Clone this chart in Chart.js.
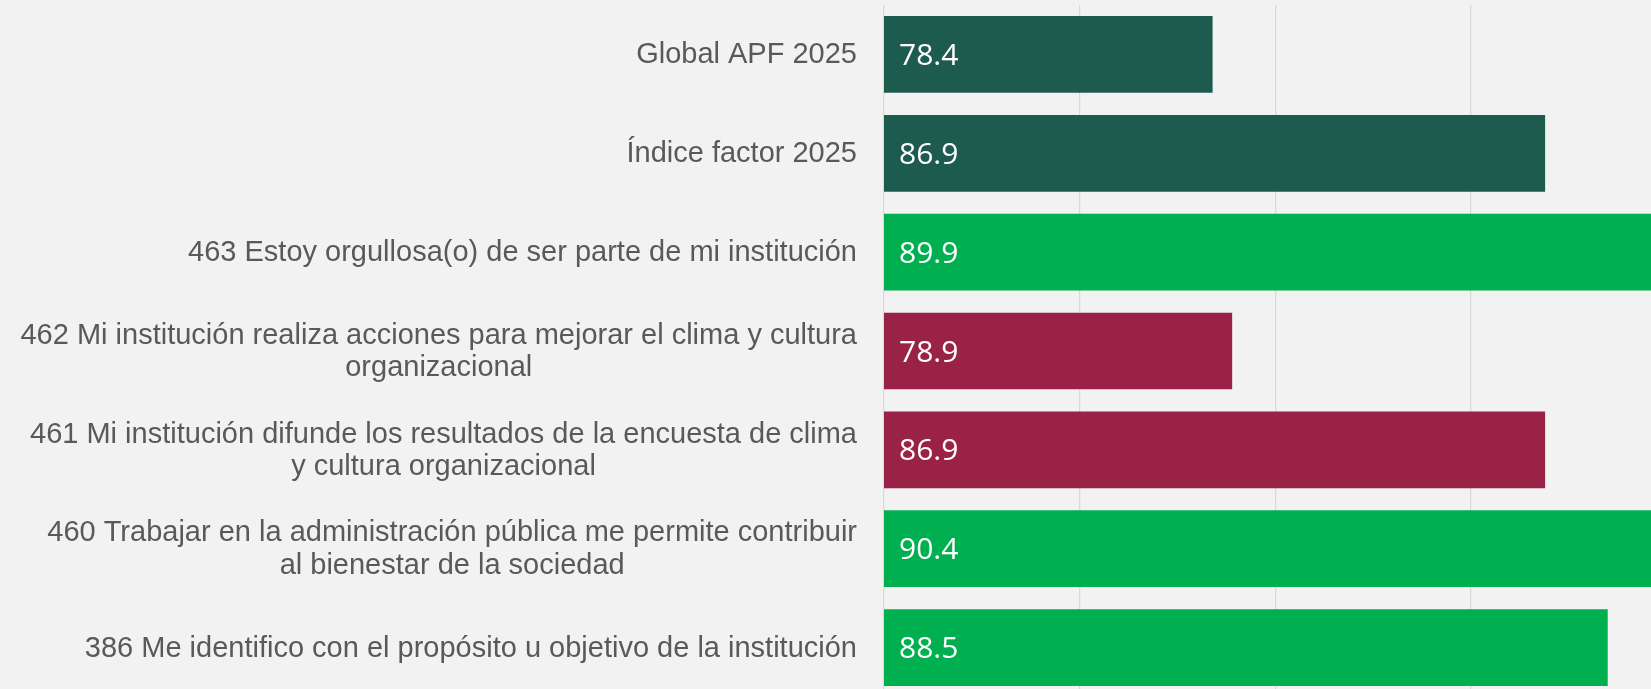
<!DOCTYPE html>
<html>
<head>
<meta charset="utf-8">
<script src="https://cdn.jsdelivr.net/npm/chart.js@4/dist/chart.umd.min.js"></script>
<style>
  html, body { margin: 0; padding: 0; overflow: hidden; background: #f2f2f2; width: 1651px; height: 689px; }
  #wrap { position: absolute; left: 0; top: 0; width: 1862px; height: 697px; }
</style>
</head>
<body>
<div id="wrap"><canvas id="bar-chart"></canvas></div>
<script>
const categories = [
  "Global APF 2025",
  "Índice factor 2025",
  "463 Estoy orgullosa(o) de ser parte de mi institución",
  ["462 Mi institución realiza acciones para mejorar el clima y cultura", "organizacional"],
  ["461 Mi institución difunde los resultados de la encuesta de clima", "y cultura organizacional"],
  ["460 Trabajar en la administración pública me permite contribuir", "al bienestar de la sociedad"],
  "386 Me identifico con el propósito u objetivo de la institución"
];
const values = [78.4, 86.9, 89.9, 78.9, 86.9, 90.4, 88.5];
const barColors = ["#1e5b4f", "#1e5b4f", "#00b050", "#9b2247", "#9b2247", "#00b050", "#00b050"];

// labels: category names (centered lines, right-aligned block) and values inside bars
const labelPlugin = {
  id: 'barLabels',
  afterDatasetsDraw(chart) {
    const ctx = chart.ctx;
    const yScale = chart.scales.y;
    const meta = chart.getDatasetMeta(0);
    const left = chart.chartArea.left;
    ctx.save();
    ctx.textBaseline = 'middle';

    ctx.font = '30px "Open Sans"';
    ctx.fillStyle = '#ffffff';
    ctx.textAlign = 'left';
    meta.data.forEach((bar, i) => {
      ctx.fillText(values[i].toFixed(1), left + 15, bar.y + 2);
    });

    ctx.font = '29px "Liberation Sans", Arial, sans-serif';
    ctx.fillStyle = '#595959';
    ctx.textAlign = 'center';
    categories.forEach((lab, i) => {
      const lines = Array.isArray(lab) ? lab : [lab];
      const w = Math.max(...lines.map(l => ctx.measureText(l).width));
      const cx = left - 27 - w / 2;
      const cy = yScale.getPixelForTick(i) + 1;
      lines.forEach((l, k) => {
        ctx.fillText(l, cx, cy + (k - (lines.length - 1) / 2) * 32.6);
      });
    });
    ctx.restore();
  }
};

new Chart(document.getElementById("bar-chart"), {
  type: 'bar',
  data: {
    labels: categories,
    datasets: [{
      data: values,
      backgroundColor: barColors,
      categoryPercentage: 1,
      barPercentage: 0.776
    }]
  },
  options: {
    indexAxis: 'y',
    responsive: true,
    maintainAspectRatio: false,
    animation: false,
    layout: { padding: { top: 5, left: 0, right: 0, bottom: 0 } },
    plugins: {
      legend: { display: false },
      tooltip: { enabled: false }
    },
    scales: {
      x: {
        min: 70,
        max: 95,
        ticks: { display: false, stepSize: 5 },
        grid: { color: '#d9d9d9', lineWidth: 1.3, drawTicks: false },
        border: { display: false }
      },
      y: {
        ticks: { display: false },
        grid: { display: false, drawTicks: false },
        border: { display: false },
        afterFit(scale) { scale.width = 884; }
      }
    }
  },
  plugins: [labelPlugin]
});
</script>
</body>
</html>
